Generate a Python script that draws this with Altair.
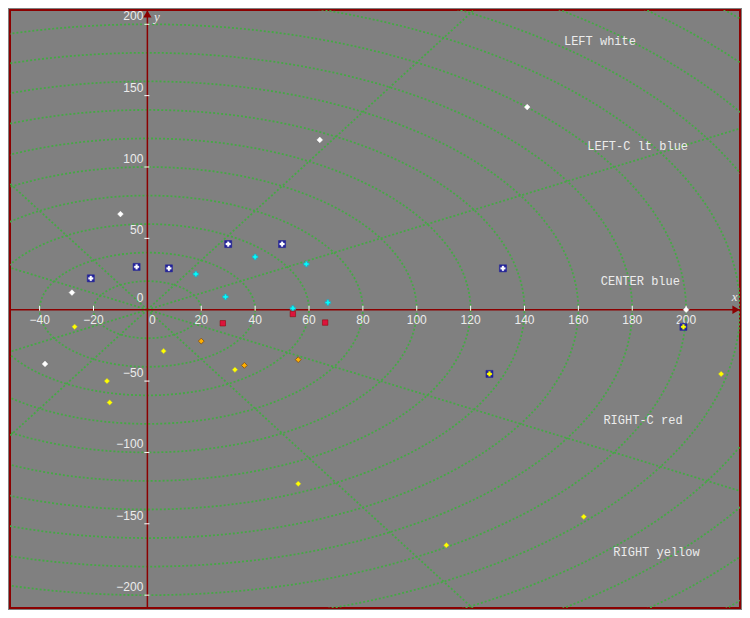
import altair as alt
import numpy as np
import pandas as pd

# ---- domains ----
X_DOMAIN = [-51, 220]
Y_DOMAIN = [-209, 210]

# ---- polar grid ----
ring_radii = [20, 40, 60, 80, 100, 120, 140, 160, 180, 200, 220, 240, 260, 280, 300]
spoke_angles = [30, 60, 120, 150, 210, 240, 300, 330]
spoke_length = 330

# ---- axis ticks ----
x_tick_values = [-40, -20, 20, 40, 60, 80, 100, 120, 140, 160, 180, 200]
x_tick_labels = ["−40", "−20", "20", "40", "60", "80", "100", "120", "140", "160", "180", "200"]
y_tick_values = [-200, -150, -100, -50, 50, 100, 150, 200]
y_tick_labels = ["−200", "−150", "−100", "−50", "50", "100", "150", "200"]

# ---- point series ----
white_x = [141, 64, -10, -28, -38, 200]
white_y = [142, 119, 67, 12, -38, 0]
blue_x = [30, 50, -4, 8, -21, 132]
blue_y = [46, 46, 30, 29, 22, 29]
cyan_x = [40, 18, 59, 29, 54, 67]
cyan_y = [37, 25, 32, 9, 1, 5]
red_x = [28, 54, 66]
red_y = [-9.5, -3, -9]
orange_x = [20, 36, 56]
orange_y = [-22, -39, -35]
yellow_x = [-27, 6, -15, 32.5, -14, 56, 111, 162, 213]
yellow_y = [-12, -29, -50, -42, -65, -122, -165, -145, -45]
ynavy_x = [127, 199]
ynavy_y = [-45, -12]

# ---- annotations ----
note_text = ["LEFT white", "LEFT-C lt blue", "CENTER blue", "RIGHT-C red", "RIGHT yellow"]
note_x = [168, 182, 183, 184, 189]
note_y = [188, 115, 20, -77, -170]

AXIS_RED = "#8b0000"
GRID_GREEN = "#45a845"
LABEL = "#ececec"
NAVY = "#22229a"
MONO = "Courier New, Courier, Nimbus Mono PS, FreeMono, Liberation Mono, monospace"

xs = alt.Scale(domain=X_DOMAIN, nice=False, zero=False)
ys = alt.Scale(domain=Y_DOMAIN, nice=False, zero=False)
X = lambda f="x": alt.X(f"{f}:Q", scale=xs, axis=None)
Y = lambda f="y": alt.Y(f"{f}:Q", scale=ys, axis=None)

# rings (grid geometry)
rows = []
for r in ring_radii:
    for i, t in enumerate(np.arange(0, 361, 2)):
        a = np.deg2rad(t)
        rows.append({"r": r, "i": i, "x": r * np.cos(a), "y": r * np.sin(a)})
rings_df = pd.DataFrame(rows)
rings = alt.Chart(rings_df).mark_line(
    color=GRID_GREEN, strokeWidth=1.8, strokeDash=[2, 2], clip=True
).encode(x=X(), y=Y(), detail="r:N", order="i:Q")

spokes_df = pd.DataFrame({
    "x": [0.0] * len(spoke_angles),
    "y": [0.0] * len(spoke_angles),
    "x2": [spoke_length * np.cos(np.deg2rad(a)) for a in spoke_angles],
    "y2": [spoke_length * np.sin(np.deg2rad(a)) for a in spoke_angles],
})
spokes = alt.Chart(spokes_df).mark_rule(
    color=GRID_GREEN, strokeWidth=1.8, strokeDash=[2, 2], clip=True
).encode(x=X(), y=Y(), x2="x2:Q", y2="y2:Q")

# axes lines
xaxis = alt.Chart(pd.DataFrame({"x": [X_DOMAIN[0]], "x2": [X_DOMAIN[1]], "y": [0]})).mark_rule(
    color=AXIS_RED, strokeWidth=1.5
).encode(x=X(), x2="x2:Q", y=Y())
yaxis = alt.Chart(pd.DataFrame({"x": [0], "y": [Y_DOMAIN[0]], "y2": [Y_DOMAIN[1]]})).mark_rule(
    color=AXIS_RED, strokeWidth=1.5
).encode(x=X(), y=Y(), y2="y2:Q")

arrow_x = alt.Chart(pd.DataFrame({"x": [X_DOMAIN[1]], "y": [0]})).mark_point(
    shape="triangle-right", filled=True, color=AXIS_RED, size=70, opacity=1, xOffset=-4
).encode(x=X(), y=Y())
arrow_y = alt.Chart(pd.DataFrame({"x": [0], "y": [Y_DOMAIN[1]]})).mark_point(
    shape="triangle-up", filled=True, color=AXIS_RED, size=70, opacity=1, yOffset=4
).encode(x=X(), y=Y())

# ticks
xt_df = pd.DataFrame({"x": x_tick_values, "y": [0] * len(x_tick_values), "y2": [0] * len(x_tick_values),
                      "label": x_tick_labels})
xticks = alt.Chart(xt_df).mark_rule(color="white", strokeWidth=1, yOffset=1, y2Offset=-4).encode(
    x=X(), y=Y(), y2="y2:Q")
xlabels = alt.Chart(xt_df).mark_text(
    align="center", baseline="top", dy=5, font="Liberation Sans", fontSize=12, color=LABEL
).encode(x=X(), y=Y(), text="label:N")

yt_df = pd.DataFrame({"y": y_tick_values, "x": [0] * len(y_tick_values), "x2": [0] * len(y_tick_values),
                      "label": y_tick_labels})
yticks = alt.Chart(yt_df).mark_rule(color="white", strokeWidth=1, xOffset=-3, x2Offset=2).encode(
    x=X(), x2="x2:Q", y=Y())
ylabels = alt.Chart(yt_df).mark_text(
    align="right", baseline="bottom", dx=-4, dy=-1, font="Liberation Sans", fontSize=12, color=LABEL
).encode(x=X(), y=Y(), text="label:N")

zero_df = pd.DataFrame({"x": [0], "y": [0], "label": ["0"]})
zero_x = alt.Chart(zero_df).mark_text(
    align="center", baseline="top", dx=5, dy=5, font="Liberation Sans", fontSize=12, color=LABEL
).encode(x=X(), y=Y(), text="label:N")
zero_y = alt.Chart(zero_df).mark_text(
    align="right", baseline="bottom", dx=-4, dy=-5, font="Liberation Sans", fontSize=12, color=LABEL
).encode(x=X(), y=Y(), text="label:N")

axis_names = alt.Chart(pd.DataFrame({"x": [218, 3.5], "y": [9, 205], "label": ["x", "y"]})).mark_text(
    font="Liberation Serif", fontSize=13, fontStyle="italic", color=LABEL, align="center", baseline="middle"
).encode(x=X(), y=Y(), text="label:N")

# points
def grp(xv, yv, shape, fill, stroke, sw, size):
    return pd.DataFrame({"x": xv, "y": yv, "shape": shape, "fill": fill, "stroke": stroke,
                         "sw": sw, "size": size})

# navy halos behind the outlined markers
halo_df = pd.concat([
    grp(blue_x, blue_y, "square", NAVY, NAVY, 0.5, 50),
    grp(ynavy_x, ynavy_y, "square", NAVY, NAVY, 0.5, 50),
], ignore_index=True)

pts_df = pd.concat([
    grp(white_x, white_y, "diamond", "#ffffff", "#ffffff", 0.5, 32),
    grp(blue_x, blue_y, "cross", "#ffffff", "#ffffff", 0.3, 22),
    grp(cyan_x, cyan_y, "cross", "#00ffff", "#3a9ab0", 0.8, 32),
    grp(red_x, red_y, "square", "#dc143c", "#8b0000", 0.5, 30),
    grp(orange_x, orange_y, "diamond", "#ffb000", "#8a5a20", 1.0, 35),
    grp(yellow_x, yellow_y, "diamond", "#ffff00", "#b0b040", 0.5, 30),
    grp(ynavy_x, ynavy_y, "cross", "#ffff00", "#ffff00", 0.3, 22),
], ignore_index=True)

def point_layer(df):
    return alt.Chart(df).mark_point(filled=True, opacity=1).encode(
        x=X(), y=Y(),
        shape=alt.Shape("shape:N", scale=None),
        fill=alt.Fill("fill:N", scale=None),
        stroke=alt.Stroke("stroke:N", scale=None),
        strokeWidth=alt.StrokeWidth("sw:Q", scale=None),
        size=alt.Size("size:Q", scale=None),
    )

halos = point_layer(halo_df)
points = point_layer(pts_df)

notes = alt.Chart(pd.DataFrame({"x": note_x, "y": note_y, "label": note_text})).mark_text(
    font=MONO, fontSize=12, color=LABEL, align="center", baseline="middle"
).encode(x=X(), y=Y(), text="label:N")

chart = alt.layer(
    rings, spokes, xaxis, yaxis, arrow_x, arrow_y, xticks, yticks,
    xlabels, ylabels, zero_x, zero_y, axis_names, halos, points, notes
).properties(
    width=734, height=602,
    autosize=alt.AutoSizeParams(type="fit", contains="padding"),
    padding=1,
    background="#808080",
).configure_view(
    stroke=AXIS_RED, strokeWidth=2, fill="#808080"
)

chart.save("out.html", embed_options={"renderer": "svg", "actions": False})
